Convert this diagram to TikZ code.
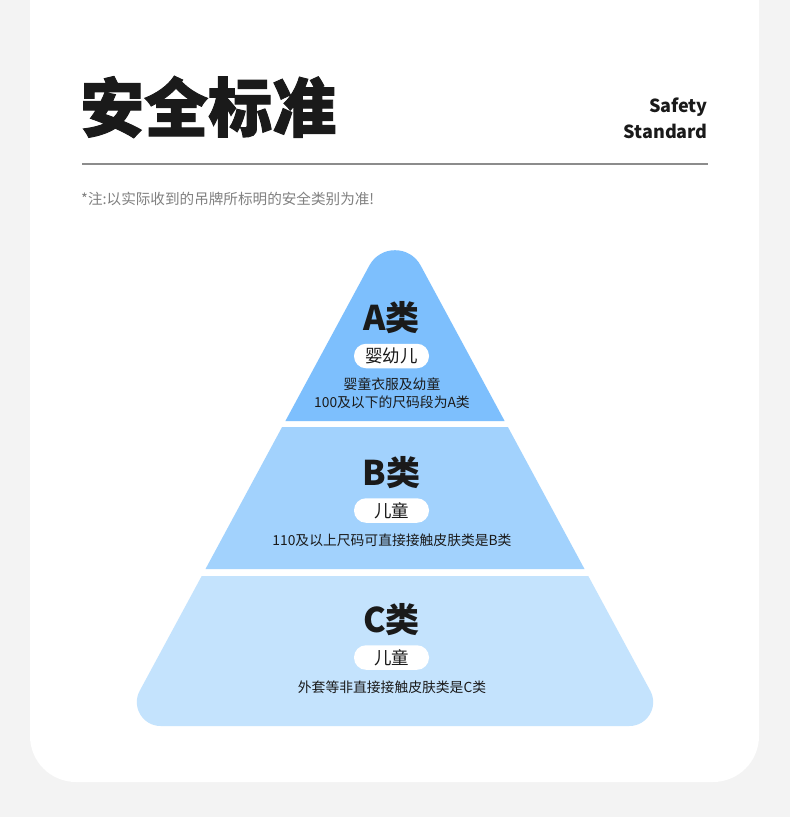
\documentclass[tikz,border=0pt]{standalone}
\usepackage{fontspec}
\setmainfont{Noto Sans CJK SC}
\newfontfamily\heavyfont[BoldFeatures={FakeBold=1.5}]{Noto Sans CJK SC}
\definecolor{bgc}{HTML}{F3F3F3}
\definecolor{tierA}{HTML}{7DBFFD}
\definecolor{tierB}{HTML}{A2D2FD}
\definecolor{tierC}{HTML}{C4E3FD}
\definecolor{ink}{HTML}{1A1A1A}
\definecolor{notec}{HTML}{808080}
\definecolor{rulec}{HTML}{8C8C8C}
\begin{document}
\begin{tikzpicture}[x=1pt,y=-1pt,
  tiertitle/.style={inner sep=0pt,text=ink,font=\bfseries\fontsize{34}{34}\selectfont},
  pill/.style={fill=white,rounded corners=12pt,minimum width=75pt,minimum height=24.5pt,inner sep=0pt,text=ink,font=\fontsize{17.5}{17.5}\selectfont},
  desc/.style={inner sep=0pt,text=ink,font=\fontsize{13.8}{17.5}\selectfont,align=center}]
\useasboundingbox (0,0) rectangle (790,817);
\fill[bgc] (0,0) rectangle (790,817);
\fill[white,rounded corners=46pt] (30,-80) rectangle (759,782);
% header
\node[anchor=west,inner sep=0pt,text=ink,font=\heavyfont\bfseries\fontsize{64}{64}\selectfont] (title) at (80,107) {安全标准};
\node[anchor=base east,inner sep=0pt,text=ink,font=\bfseries\fontsize{18}{18}\selectfont] (safety) at (708,112) {Safety};
\node[anchor=base east,inner sep=0pt,text=ink,font=\bfseries\fontsize{18}{18}\selectfont] (standard) at (708,138) {Standard};
\coordinate (r1) at (82,164);
\coordinate (r2) at (708,164);
\draw[rulec,line width=1.5pt] (r1) -- (r2);
\node[anchor=west,inner sep=0pt,text=notec,font=\fontsize{14.6}{14.6}\selectfont] (note) at (81,199) {*注:以实际收到的吊牌所标明的安全类别为准!};
% pyramid tiers
\fill[tierA] (285.4,421) -- (369.35,265.5) .. controls (380.35,245.1) and (409.65,245.1) .. (420.65,265.5) -- (504.6,421) -- cycle;
\fill[tierB] (282.1,427) -- (507.9,427) -- (584.5,569) -- (205.5,569) -- cycle;
\fill[tierC] (201.7,576) -- (588.3,576) -- (650.3,690.8) .. controls (658.87,706.68) and (647.34,726) .. (629.3,726)
  -- (160.7,726) .. controls (142.66,726) and (131.13,706.68) .. (139.7,690.8) -- cycle;
% tier A
\node[tiertitle] (ta) at (391.5,318) {A类};
\node[pill] (pa) at (391.5,356) {婴幼儿};
\node[desc] (da) at (392,393) {婴童衣服及幼童\\100及以下的尺码段为A类};
% tier B
\node[tiertitle] (tb) at (391.5,473) {B类};
\node[pill] (pb) at (391.5,510.5) {儿童};
\node[desc] (db) at (392,540) {110及以上尺码可直接接触皮肤类是B类};
% tier C
\node[tiertitle] (tc) at (391.5,620) {C类};
\node[pill] (pc) at (391.5,657.5) {儿童};
\node[desc] (dc) at (392,687.5) {外套等非直接接触皮肤类是C类};
\end{tikzpicture}
\end{document}
